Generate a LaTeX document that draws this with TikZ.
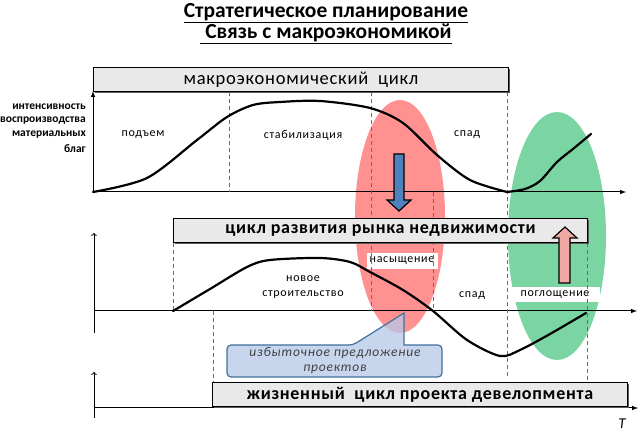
\documentclass[tikz,border=0pt]{standalone}
\usepackage{fontspec}
\setmainfont{Carlito}
\newfontfamily\spacedfont[LetterSpace=6]{Carlito}
\newfontfamily\barfont[LetterSpace=4]{Carlito}
\usetikzlibrary{positioning, arrows, shadows}
\definecolor{bar_gray}{RGB}{233,233,233}
\definecolor{boom_pink}{RGB}{255,145,145}
\definecolor{absorb_green}{RGB}{122,213,163}
\definecolor{down_blue}{RGB}{79,129,189}
\definecolor{up_pink}{RGB}{240,168,164}
\definecolor{note_blue}{RGB}{180,199,231}
\definecolor{note_edge}{RGB}{65,113,156}
\tikzset{
	cyclebar/.style={draw, fill=bar_gray, line width=1pt, anchor=north west, inner sep=0pt, minimum height=24pt,
		drop shadow={shadow xshift=1.6pt, shadow yshift=-1.6pt, fill=black!65, opacity=1}},
	phase/.style={font=\spacedfont\fontsize{12}{15}\selectfont, inner sep=1pt},
	ylabel/.style={anchor=east, inner sep=0pt, font=\bfseries\fontsize{11.5}{13}\selectfont},
	bound/.style={gray!85!black, dash pattern=on 4pt off 3pt, line width=0.8pt},
	axis/.style={line width=1pt},
	curve/.style={line width=2.2pt, line join=round, line cap=round},
	fatarrow/.style={draw, line width=1.2pt, line join=miter}
}

\begin{document}
\begin{tikzpicture}[x=1pt,y=-1pt]
		\useasboundingbox (0,0) rectangle (643,435);
		\node[font=\bfseries\fontsize{21.5}{24}\selectfont] (title1) at (326,13) {\underline{Стратегическое планирование}};
		\node[font=\bfseries\fontsize{21.5}{24}\selectfont] (title2) at (326,34) {\underline{\ Связь с макроэкономикой}};

		\fill[boom_pink] (400,216.5) ellipse [x radius=45pt, y radius=116.5pt];
		\fill[absorb_green] (557,236) ellipse [x radius=49pt, y radius=124pt];

		\node[phase] (rise) at (143,135) {подъем};
		\node[phase] (stab) at (303,135) {стабилизация};
		\node[phase] (fall) at (467,135) {спад};
		\node[phase, align=center] (build) at (303,287) {новое\\строительство};
		\node[phase, fill=white, minimum width=71pt, minimum height=16pt] (satur) at (402,261) {насыщение};
		\node[phase] (fall2) at (472,296) {спад};
		\node[phase, fill=white, minimum width=90pt, minimum height=15pt] (absorb) at (555,295) {поглощение};

		\foreach \word [count=\i] in {интенсивность, воспроизводства, материальных, благ}
			\node[ylabel] (lab\i) at (86,{93+14*\i}) {\word};

		\coordinate (o1) at (93,192);
		\coordinate (o2) at (94,311);
		\coordinate (o3) at (94,408);
		\draw[axis,-latex] (o1) -- (93,91);
		\draw[axis,-latex] (o1) -- (626,192);
		\draw[axis,-to] (94,333) -- (94,233);
		\draw[axis,-latex] (o2) -- (637,311);
		\draw[axis,-to] (94,418) -- (94,372);
		\draw[axis,-latex] (o3) -- (638,408);
		\node[font=\itshape\fontsize{15}{17}\selectfont] (time) at (622,424) {T};

		\foreach \name/\x/\ya/\yb in {b1/229/92/192, b2/371/92/311, b3/433/192/311, b4/507/92/377,
			b5/587/243/380, b6/173/243/311, b7/213/311/382}
		{
			\coordinate (\name t) at (\x,\ya);
			\coordinate (\name b) at (\x,\yb);
			\draw[bound] (\name t) -- (\name b);
		}

		\node[cyclebar, minimum width=415pt, font=\barfont\fontsize{18.5}{20}\selectfont] (macro) at (93,67) {макроэкономический\ \ цикл};
		\node[cyclebar, minimum width=414pt, font=\barfont\bfseries\fontsize{18}{20}\selectfont] (market) at (173,218) {цикл развития рынка недвижимости};
		\node[cyclebar, minimum width=415pt, font=\barfont\bfseries\fontsize{18}{20}\selectfont] (project) at (212,382) {жизненный\ \ цикл проекта девелопмента};

		\draw[curve] plot[smooth] coordinates {(93,192) (147,178) (197,140) (227,117) (253,105) (280,102) (320,101)
			(370,108) (403,123) (437,155) (470,180) (507,192)};
		\draw[curve] plot[smooth, tension=0.5] coordinates {(507,192) (525,189) (540,181) (557,162) (573,149) (591,134)};
		\draw[curve] plot[smooth] coordinates {(173,311) (210,289) (247,267) (270,260) (320,258) (350,262) (370,272)
			(403,290) (433,311) (467,340) (500,356) (520,350) (550,334) (586,313)};

		\draw[fatarrow, fill=down_blue] (394,154) -- (404,154) -- (404,200) -- (411,200) -- (399,211) -- (387,200) -- (394,200) -- cycle;
		\draw[fatarrow, fill=up_pink] (559,283) -- (570,283) -- (570,238) -- (577,238) -- (565,227) -- (553,238) -- (559,238) -- cycle;

		\draw[note_edge, line width=1.2pt, fill=note_blue, fill opacity=0.75] (335,377) [rounded corners=4pt] -- (227,377) -- (227,345) -- (353,345)
			[sharp corners] -- (404,313) -- (404,345) [rounded corners=4pt] -- (442,345) -- (442,377) -- cycle;
		\node[font=\spacedfont\itshape\fontsize{13.5}{15}\selectfont, text=black!75, align=center] (excess) at (335,361) {избыточное предложение\\проектов};
	\end{tikzpicture}
\end{document}
